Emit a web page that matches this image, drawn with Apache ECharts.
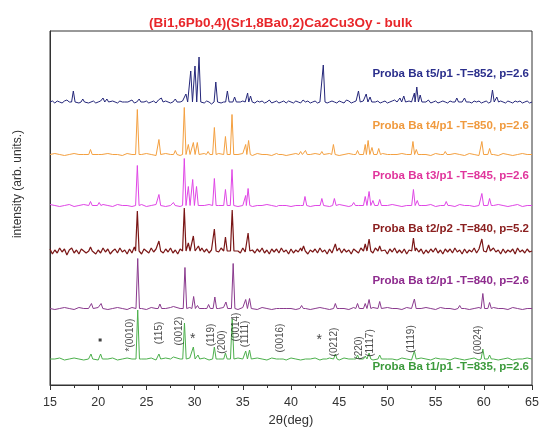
<!DOCTYPE html>
<html><head><meta charset="utf-8">
<script src="https://cdn.jsdelivr.net/npm/echarts@6/dist/echarts.min.js"></script>
<style>html,body{margin:0;padding:0;background:#fff}#c{width:542px;height:434px}</style>
</head><body><div id="c"></div>
<script>
// ---- data (intensity in arbitrary stacked units) ----
const seriesNames = ['Proba Ba t5/p1 -T=852, p=2.6','Proba Ba t4/p1 -T=850, p=2.6','Proba Ba t3/p1 -T=845, p=2.6','Proba Ba t2/p2 -T=840, p=5.2','Proba Ba t2/p1 -T=840, p=2.6','Proba Ba t1/p1 -T=835, p=2.6'];
const baselines = [283, 230.5, 179.5, 134, 76.5, 26];

const t5Peaks = [[17.42,11],[18.4,3],[20.5,4],[20.9,3],[22.9,2],[24.25,3],[26.55,4],[28.0,3],[29.1,8],[29.6,31],[30.04,36],[30.46,45],[32.2,20],[33.4,11],[34.15,5],[35.5,9],[35.8,6],[43.35,37],[47.0,11],[47.8,8],[48.2,5],[51.3,4],[51.7,6],[52.8,9],[53.05,15],[53.4,7],[57.2,4],[58.0,4],[60.9,12],[61.35,5]];
const t4Peaks = [[19.2,5],[20.2,2],[24.06,45],[26.3,15],[28.0,4],[28.93,47],[29.35,10],[29.87,12],[30.28,12],[31.4,3],[32.05,27],[33.2,18],[33.88,40],[35.3,10],[35.6,14],[38.9,2],[41.0,3],[41.5,4],[43.2,3],[44.4,10],[46.9,4],[47.7,10],[48.0,14],[48.4,7],[49.1,6],[50.5,2],[52.65,13],[53.0,5],[56.0,3],[59.8,13],[60.6,6]];
const t3Peaks = [[19.2,4],[20.1,3],[24.06,40],[26.3,11],[27.8,3],[28.93,47],[29.35,19],[29.8,26],[30.2,19],[32.05,27],[33.2,16],[33.88,36],[35.3,10],[35.55,17],[38.9,2],[41.45,9],[43.2,7],[44.5,7],[46.5,3],[47.7,9],[48.1,14],[48.5,5],[49.2,6],[52.7,16],[53.1,5],[56.1,4],[59.8,12],[60.6,7]];
const t2p2Peaks = [[19.2,4],[24.06,40],[26.3,10],[28.93,43],[29.35,8],[29.87,15],[30.4,5],[32.05,22],[33.2,14],[33.9,41],[35.55,18],[41.3,5],[44.6,7],[47.7,7],[48.1,12],[49.2,5],[52.7,13],[59.8,12],[60.5,6]];
const t2p1Peaks = [[19.3,5],[20.3,5],[24.1,50],[26.4,4.5],[27.8,2],[29.0,41],[29.9,12],[30.3,3],[31.45,4],[32.1,11.5],[33.25,6.5],[34.0,45],[35.3,9],[35.7,10],[39.0,2],[41.1,3],[44.6,5],[46.9,5],[47.7,5],[48.1,9],[49.2,7],[52.8,9.5],[57.5,3],[59.9,15],[60.6,6]];
const t1Peaks = [[19.25,5],[20.25,5],[24.1,49],[26.3,5],[27.8,2],[28.95,36],[29.87,12],[30.35,4],[32.05,12],[33.2,6],[33.9,40],[35.3,8],[35.7,9],[39.0,2],[43.5,2],[44.6,5],[46.9,4],[47.7,3],[48.1,6],[49.2,4],[52.8,8],[59.9,10],[60.6,4]];

// baseline wiggle read as offsets on a regular 2theta grid
const t5Noise = [0,1,-1,1,0,-1,1,2,0,-1, 1,0,-1,1,0,1,-1,0,1,-1, 0,1,1,-1,0,-2,1,0,-1,1, 0,-1,1,0,2,-1,0,1,-1,0, 1,-1,0,1,-1,2,0,-1,1,0, -1,0,1,-1,0,1,2,-1,0,1, -1,0,1,0,-1,1,0,-2,1,0, 1,-1,0,1,-1,0,2,1,-1,0, 1,0,-1,1,0,-1,1,0,1,-1, 0,2,-1,0,1,-1,0,1,-1,1, 0,-1,1,0,-1,2,0,1,-1,0, 1,-1,0,1,2,-1,0,1,0,-1, 1,0,-1,2,1,-1,0,1,-1,0, 1,0,2,1,-1,0,1,-1,0,1, -1,0,1,2,0,-1,1,0,-1,1, 0,-1,1,0,1,-1,0,2,-1,0, 1,-1,0,1,0,-1,1,0,-1,1, 2,0,-1,1,0,-1,1,0,1,-1, 0,1,-1,0,1,0,-1,1,0,-1, 1,0,-1,1,0,1,-1,0,1,-1, 0];
const t2p2Noise = [2,-3,1,-2,3,-1,2,-4,1,3, -2,1,-3,2,0,-2,3,-1,2,-3, 1,-2,3,-1,2,-3,0,2,-2,3, -1,1,-3,2,-2,4,-1,1,-3,2, 0,-2,3,-1,2,-3,1,-2,2,-1, 3,-2,1,-3,2,-1,3,-2,0,2, -3,1,-2,3,-1,2,-2,1,-3,2, -1,3,-2,1,-2,2,-3,1,0,-2, 3,-1,2,-3,1,-2,2,-1,3,-2, 1,-3,2,-1,2,-2,3,-1,1,-3, 2,-2,1,-1,3,-2,2,-3,1,-1, 2,-2,3,-1,1,-3,2,-2,1,-1, 3,-2,2,-1,1,-3,2,0,-2,3, -1,2,-3,1,-2,3,-1,2,-2,1, -3,2,-1,3,-2,1,-2,2,-3,1, 0,-2,3,-1,2,-3,1,-2,2,-1, 3,-2,1,-3,2,-1,2,-2,3,-1, 1,-3,2,-2,1,-1,3,-2,2,-3, 1,-1,2,-2,3,-1,1,-3,2,-2, 1,-1,2,-3,3,-1,1,-2,2,-1, 0];
const t4Noise = [0,1,0,-1,0,1,0,0,-1,1, 0,-1,1,0,0,-1,1,0,-1,0, 1,0,-1,0,1,0,0,-1,1,0, -1,0,1,0,-1,1,0,0,-1,0, 1,0,-1,1,0,0,-1,1,0,-1, 0,1,0,-1,0,1,-1,0,1,0, -1,0,1,0,-1,0,1,0,-1,1, 0,-1,0,1,0,-1,1,0,0,-1, 1,0,-1,0,1,0,-1,1,0,-1, 0,1,0,-1,1,0,-1,0,1,0, 0];
const t3Noise = [1,0,-1,0,1,-1,0,1,0,-1, 0,1,0,-1,1,0,0,-1,0,1, -1,0,1,0,-1,0,1,-1,0,0, 1,-1,0,1,0,0,-1,1,0,-1, 0,1,-1,0,0,1,0,-1,1,0, -1,0,0,1,-1,0,1,0,-1,0, 1,0,-1,1,0,-1,0,0,1,-1, 0,1,0,-1,0,1,-1,0,0,1, -1,0,1,0,-1,1,0,0,-1,0, 1,-1,0,1,0,-1,0,1,-1,0, 0];
const t2p1Noise = [0,-1,0,1,0,-1,1,0,0,-1, 1,0,-1,0,1,0,-1,1,0,0, -1,1,0,-1,0,1,0,0,-1,1, 0,-1,0,1,-1,0,1,0,0,-1, 1,0,0,-1,1,0,-1,0,1,0, 0,-1,1,0,-1,0,1,0,-1,1, 0,0,-1,1,0,-1,0,1,0,-1, 1,0,0,-1,1,0,-1,0,1,0, -1,1,0,0,-1,1,0,-1,0,1, 0,-1,1,0,0,-1,1,0,-1,0, 0];
const t1Noise = [0,0,1,-1,0,1,0,-1,0,1, -1,0,0,1,-1,0,1,0,-1,0, 0,1,-1,0,1,0,-1,0,0,1, -1,0,1,-1,0,0,1,0,-1,1, 0,-1,0,1,0,-1,1,0,0,-1, 1,0,-1,0,0,1,-1,0,1,0, -1,1,0,0,-1,0,1,-1,0,1, 0,0,-1,1,0,-1,0,1,0,-1, 1,0,0,-1,1,0,-1,0,1,-1, 0,1,0,-1,0,1,-1,0,0,1, 0];

// Miller index annotations on the t1 pattern
const hklLabels = [[23.35,50,'*(0010)'],[26.34,52,'(115)'],[28.4,54,'(0012)'],[31.75,50,'(119)'],[32.87,43,'(200)'],[34.35,58,'(0014)'],[35.28,51,'(1111)'],[38.86,47,'(0016)'],[44.49,43,'(0212)'],[47.05,37,'(220)'],[48.27,42,'(1117)'],[52.52,46,'(1119)'],[59.4,45,'(0024)']];
const starMarks = [[29.8,46],[42.93,45]];
const dotMarks = [[20.2,45]];
const xTicks = [15,20,25,30,35,40,45,50,55,60,65];

const lineColors = ['#25277a','#f4a040','#e046e6','#7a1616','#8a3a8e','#4cb04c'];
const labelColors = ['#2b2f8c','#f09a3e','#e0359c','#8b2020','#8e2b8e','#3c9a3c'];
const labelY = [75, 127, 177, 230, 282, 368];

function buildTrace(base, peaks, noise, step) {
  const pts = [];
  noise.forEach((n, i) => {
    const x = 15 + i * step;
    if (x > 65) return;
    if (peaks.some(p => Math.abs(p[0] - x) < 0.22)) return;
    pts.push([x, base + n]);
  });
  peaks.forEach(p => {
    pts.push([p[0] - 0.18, base]);
    pts.push([p[0], base + p[1]]);
    pts.push([p[0] + 0.18, base]);
  });
  pts.sort((a, b) => a[0] - b[0]);
  return pts;
}

const traces = [
  buildTrace(baselines[0], t5Peaks, t5Noise, 0.25),
  buildTrace(baselines[1], t4Peaks, t4Noise, 0.5),
  buildTrace(baselines[2], t3Peaks, t3Noise, 0.5),
  buildTrace(baselines[3], t2p2Peaks, t2p2Noise, 0.25),
  buildTrace(baselines[4], t2p1Peaks, t2p1Noise, 0.5),
  buildTrace(baselines[5], t1Peaks, t1Noise, 0.5)
];
const lineWidths = [1, 1, 1, 1.2, 1, 1];

const FONT = '"Liberation Sans", Arial, sans-serif';
const chart = echarts.init(document.getElementById('c'));
const series = traces.map((d, i) => ({
  type: 'line', name: seriesNames[i], data: d, showSymbol: false, symbol: 'none',
  lineStyle: { color: lineColors[i], width: lineWidths[i] }, animation: false, z: 2
}));
series.push({
  type: 'scatter', data: hklLabels.map(a => [a[0], a[1], a[2]]), symbolSize: 0, animation: false, silent: true,
  label: { show: true, position: 'inside', rotate: 90, formatter: p => p.data[2], color: '#222', fontSize: 10, fontFamily: FONT }
});
series.push({
  type: 'scatter', data: starMarks, symbolSize: 0, animation: false, silent: true,
  label: { show: true, position: 'inside', formatter: '*', color: '#111', fontSize: 14, fontFamily: FONT }
});
series.push({
  type: 'scatter', data: dotMarks, symbol: 'rect', symbolSize: 3, itemStyle: { color: '#111' }, animation: false, silent: true
});

chart.setOption({
  backgroundColor: '#fff',
  animation: false,
  title: { text: '(Bi1,6Pb0,4)(Sr1,8Ba0,2)Ca2Cu3Oy - bulk', left: 144, top: 11,
    textStyle: { color: '#e8262a', fontSize: 13.5, fontWeight: 'bold', fontFamily: FONT } },
  grid: { left: 50, right: 10, top: 31, bottom: 49, show: true, borderColor: '#333', borderWidth: 1 },
  xAxis: { type: 'value', min: xTicks[0], max: xTicks[xTicks.length - 1], interval: 5,
    axisLine: { show: true, lineStyle: { color: '#333' } },
    axisTick: { show: true, length: 5, lineStyle: { color: '#333' } },
    minorTick: { show: true, splitNumber: 2, length: 3, lineStyle: { color: '#333' } },
    splitLine: { show: false },
    axisLabel: { color: '#333', fontSize: 12.5, margin: 11, fontFamily: FONT },
    name: '2θ(deg)', nameLocation: 'middle', nameGap: 26,
    nameTextStyle: { color: '#333', fontSize: 13, fontFamily: FONT } },
  yAxis: { type: 'value', min: 0, max: 354, axisLabel: { show: false }, axisTick: { show: false },
    splitLine: { show: false }, axisLine: { show: true, lineStyle: { color: '#333' } } },
  graphic: [
    { type: 'text', left: 12, top: 130, rotation: Math.PI / 2, style: { text: 'intensity (arb. units.)', fill: '#333', font: '12px ' + FONT } }
  ].concat(seriesNames.map((n, i) => ({
    type: 'text', right: 13, top: labelY[i] - 7,
    style: { text: n, fill: labelColors[i], font: 'bold 11.5px ' + FONT }
  }))),
  series: series
});
</script>
</body></html>
